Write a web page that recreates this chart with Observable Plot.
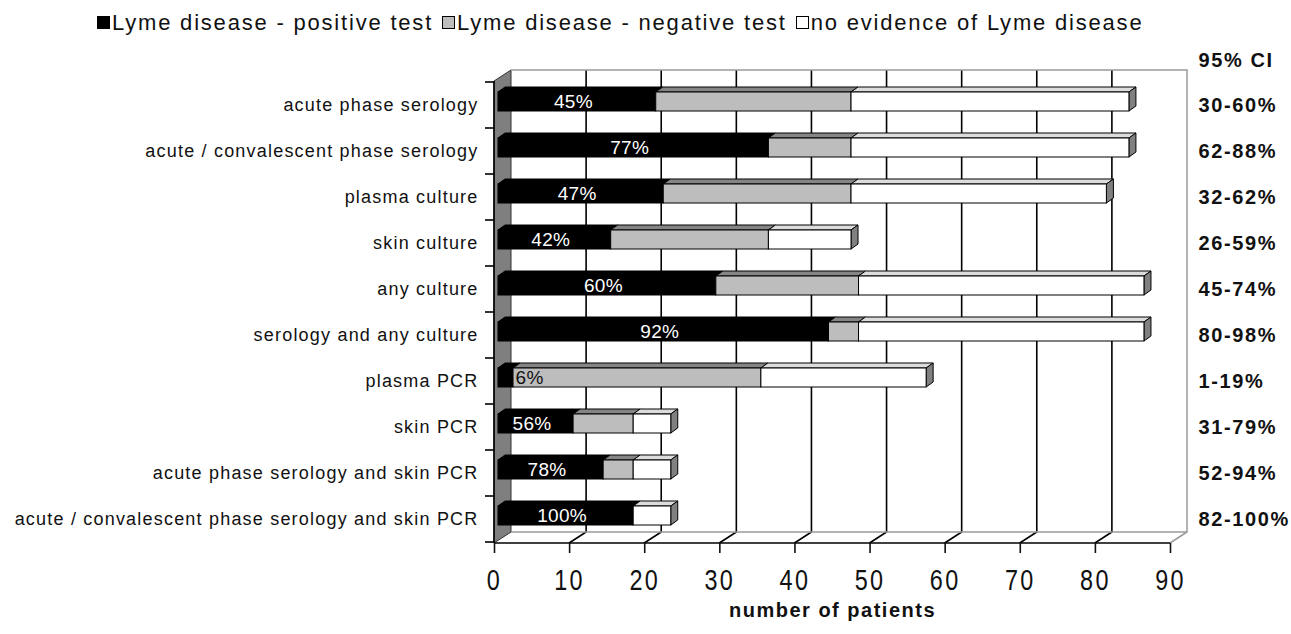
<!DOCTYPE html>
<html><head><meta charset="utf-8">
<script src="https://cdn.jsdelivr.net/npm/d3@7"></script>
<script src="https://cdn.jsdelivr.net/npm/@observablehq/plot@0.6"></script>
<style>
html,body{margin:0;padding:0;background:#fff;}
body{width:1291px;height:634px;overflow:hidden;font-family:"Liberation Sans",Arial,sans-serif;color:#111;}
#legend{height:45px;display:flex;align-items:center;padding-left:97px;box-sizing:border-box;font-size:22px;letter-spacing:1.8px;white-space:nowrap;}
#legend .item{display:flex;align-items:center;margin-right:9px;}
#legend .sw{display:inline-block;width:13px;height:13px;border:1px solid #000;margin-right:2px;box-sizing:border-box;}
#chart svg{display:block;}
</style></head><body>
<div id="legend"></div>
<div id="chart"></div>
<script>
// ---- data ----
const categories = [
  "acute phase serology",
  "acute / convalescent phase serology",
  "plasma culture",
  "skin culture",
  "any culture",
  "serology and any culture",
  "plasma PCR",
  "skin PCR",
  "acute phase serology and skin PCR",
  "acute / convalescent phase serology and skin PCR"
];
const positive   = [21, 36, 22, 15, 29, 44,  2, 10, 14, 18];
const negative   = [26, 11, 25, 21, 19,  4, 33,  8,  4,  0];
const noEvidence = [37, 37, 34, 11, 38, 38, 22,  5,  5,  5];
const percentLabels = ["45%", "77%", "47%", "42%", "60%", "92%", "6%", "56%", "78%", "100%"];
const ciLabels = ["30-60%", "62-88%", "32-62%", "26-59%", "45-74%", "80-98%", "1-19%", "31-79%", "52-94%", "82-100%"];
const ciHeader = "95% CI";
const seriesNames = ["Lyme disease - positive test", "Lyme disease - negative test", "no evidence of Lyme disease"];
const xTicks = [0, 10, 20, 30, 40, 50, 60, 70, 80, 90];
const xLabel = "number of patients";

// ---- styling ----
const frontColors = ["#000000", "#bdbdbd", "#ffffff"];
const topColors = ["#000000", "#858585", "#dcdcdc"];
const sideColor = "#808080";
const W = 1291, LEGEND_H = 45, H = 634 - LEGEND_H;
const DX = 17, DY = -11;          // depth of the back wall
const BX = 4;                     // bar front-face offset
const BDX = 7, BDY = -5;          // bar depth
const INSET_T = 10, INSET_B = 17;

// legend
const legend = d3.select("#legend");
seriesNames.forEach((name, i) => {
  const it = legend.append("span").attr("class", "item");
  it.append("span").attr("class", "sw").style("background", frontColors[i]);
  it.append("span").text(name);
});

// tables built from the arrays
const segments = [];
categories.forEach((c, i) => {
  const vals = [positive[i], negative[i], noEvidence[i]];
  let acc = 0;
  vals.forEach((v, s) => {
    if (v > 0) segments.push({cat: c, series: seriesNames[s], si: s, x1: acc, x2: acc + v});
    acc += v;
  });
});
const rows = categories.map((c, i) => ({cat: c, pos: positive[i], pct: percentLabels[i], ci: ciLabels[i]}));

const line = (g, pts, stroke, sw) =>
  g.append("polyline").attr("points", pts.map(p => p.join(",")).join(" "))
   .attr("fill", "none").attr("stroke", stroke).attr("stroke-width", sw);

function wallMark(index, scales, values, dim) {
  const {x, y} = scales;
  const g = d3.create("svg:g");
  const x0 = x(0), x9 = x(90);
  const top = dim.marginTop, bot = dim.height - dim.marginBottom;
  g.append("polygon")
    .attr("points", [[x0, bot], [x0 + DX, bot + DY], [x0 + DX, top + DY], [x0, top]].map(p => p.join(",")).join(" "))
    .attr("fill", "#7f7f7f").attr("stroke", "#333").attr("stroke-width", 1);
  xTicks.filter(t => t > 0 && t < 90).forEach(t => {
    const xt = x(t);
    line(g, [[xt, bot], [xt + DX, bot + DY], [xt + DX, top + DY]], "#000", 1.6);
  });
  line(g, [[x0 + DX, top + DY], [x9 + DX, top + DY], [x9 + DX, bot + DY], [x9, bot]], "#9a9a9a", 1.5);
  line(g, [[x0 + DX, bot + DY], [x9 + DX, bot + DY]], "#9a9a9a", 1.5);
  line(g, [[x0, bot], [x9, bot]], "#000", 1.6);
  line(g, [[x0, top], [x0, bot]], "#000", 1.6);
  const bw = y.bandwidth();
  const bounds = categories.map(c => y(c)).concat([y(categories[categories.length - 1]) + bw]);
  bounds.forEach(b => line(g, [[x0 - 9, b], [x0, b]], "#000", 1.6));
  return g.node();
}

function barDepthMark(index, scales) {
  const {x, y} = scales;
  const g = d3.create("svg:g").attr("stroke", "#000").attr("stroke-width", 1).attr("stroke-linejoin", "round");
  const bw = y.bandwidth();
  const poly = (pts, fill) => g.append("polygon").attr("points", pts.map(p => p.join(",")).join(" ")).attr("fill", fill);
  categories.forEach(c => {
    const segs = segments.filter(s => s.cat === c);
    const T = y(c) + INSET_T, B = y(c) + bw - INSET_B;
    segs.forEach(s => {
      const X1 = x(s.x1) + BX, X2 = x(s.x2) + BX;
      poly([[X1, T], [X2, T], [X2 + BDX, T + BDY], [X1 + BDX, T + BDY]], topColors[s.si]);
    });
    const last = segs[segs.length - 1];
    const XE = x(last.x2) + BX;
    poly([[XE, T], [XE + BDX, T + BDY], [XE + BDX, B + BDY], [XE, B]], sideColor);
  });
  return g.node();
}

const chart = Plot.plot({
  width: W, height: H,
  marginLeft: 494, marginRight: 121, marginTop: 36, marginBottom: 91,
  style: {fontFamily: '"Liberation Sans", Arial, sans-serif', color: "#111", background: "#fff", overflow: "visible"},
  x: {domain: [0, 90], label: null},
  y: {domain: categories, padding: 0, label: null},
  color: {domain: seriesNames, range: frontColors},
  marks: [
    wallMark,
    Plot.axisX({ticks: xTicks, tickSize: 10, tickPadding: 15, fontSize: 30, strokeWidth: 1.6, label: null}),
    Plot.axisY({tickSize: 0, tickPadding: 16, fontSize: 18, label: null}),
    barDepthMark,
    Plot.barX(segments, {y: "cat", x1: "x1", x2: "x2", fill: "series", stroke: "#000", strokeWidth: 1,
      insetTop: INSET_T, insetBottom: INSET_B, dx: BX}),
    Plot.text(rows.filter(d => d.pos >= 5), {x: d => d.pos / 2, y: "cat", text: "pct", fill: "#fff",
      dx: BX - 4, dy: -4, fontSize: 19}),
    Plot.text(rows.filter(d => d.pos < 5), {x: "pos", y: "cat", text: "pct", fill: "#111", textAnchor: "start",
      dx: BX + 2, dy: -4, fontSize: 19}),
    Plot.text(rows, {y: "cat", text: "ci", frameAnchor: "right", textAnchor: "start", dx: 28,
      fontWeight: "bold", fontSize: 20}),
    Plot.text([ciHeader], {text: d => d, frameAnchor: "top-right", textAnchor: "start", lineAnchor: "middle",
      dx: 28, dy: -21, fontWeight: "bold", fontSize: 20}),
    Plot.text([xLabel], {text: d => d, frameAnchor: "bottom", lineAnchor: "middle", dy: 67,
      fontWeight: "bold", fontSize: 20})
  ]
});
document.getElementById("chart").appendChild(chart);
const sel = d3.select(chart);
sel.selectAll('g[aria-label="y-axis tick label"] text').style("letter-spacing", "1.2px");
sel.selectAll('g[aria-label="x-axis tick label"] text')
  .style("letter-spacing", "3px")
  .attr("transform", function() { return (this.getAttribute("transform") || "") + " scale(0.78,1)"; });
const byText = list => sel.selectAll("text").filter(function() { return list.includes(this.textContent); });
byText(ciLabels.concat([ciHeader])).style("letter-spacing", "1.6px");
byText([xLabel]).style("letter-spacing", "1.5px");
byText(percentLabels).style("letter-spacing", "0.3px");
</script>
</body></html>
